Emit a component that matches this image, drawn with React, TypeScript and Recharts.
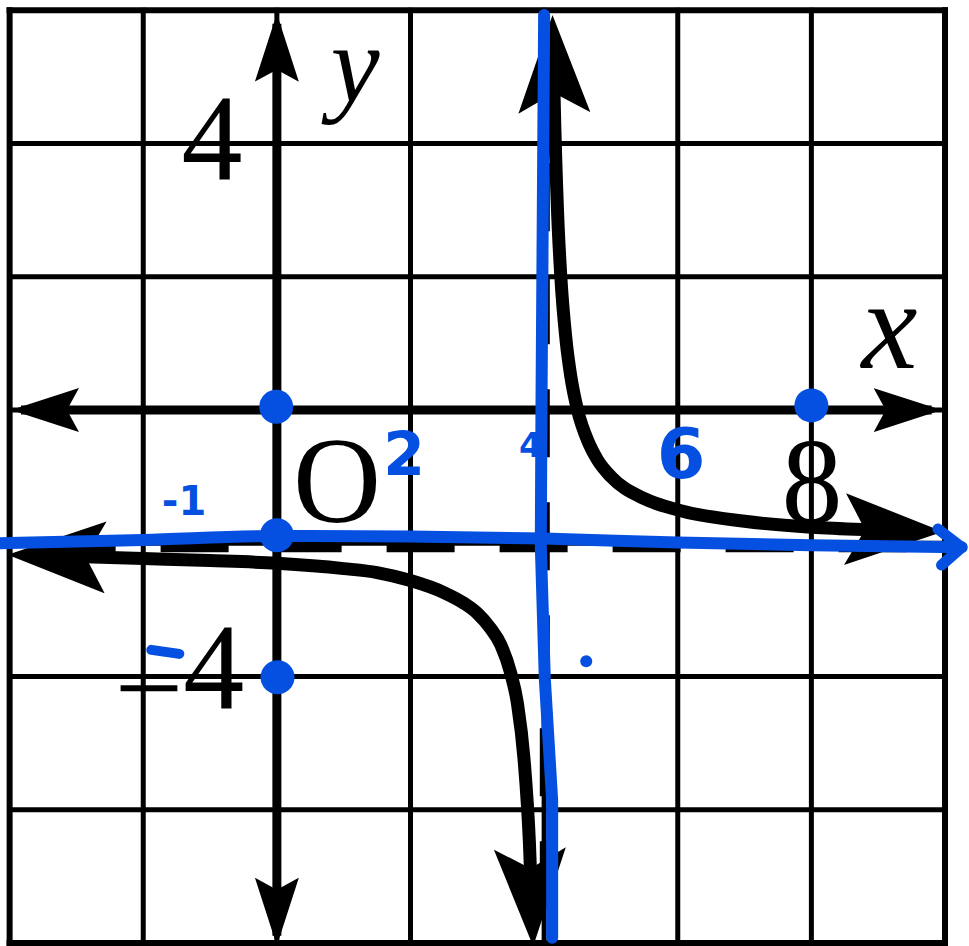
import React from "react"
import { ComposedChart, Line, Scatter, XAxis, YAxis } from "recharts"

const W = 969
const H = 946
const INK = "#000000"
const PEN = "#0550e1"

// frame runs -4..10 across and -8..6 up, one grid line every 2 units
const gridX = [-4, -2, 0, 2, 4, 6, 8, 10]
const gridY = [-8, -6, -4, -2, 0, 2, 4, 6]

// dashed asymptotes
const asymX = 4.01
const asymY = -2.06

// axis ends (the arrow tips sit a little past these)
const xAxisEnds = [-3.83, 9.8]
const yAxisEnds = [5.8, -7.89]

// left / lower branch
const leftX = [-3.73, -3, -2, -1, 0, 1, 1.5, 2, 2.5, 2.8, 3, 3.2, 3.35, 3.5, 3.6, 3.7, 3.78, 3.826]
const leftY = [-2.18, -2.2, -2.23, -2.26, -2.3, -2.38, -2.44, -2.56, -2.74, -2.9, -3.05, -3.28, -3.52, -3.95, -4.4, -5.25, -6.5, -7.75]

// upper / right branch
const rightX = [4.131, 4.15, 4.2, 4.25, 4.33, 4.4, 4.5, 4.67, 4.8, 5, 5.5, 6, 7, 8, 9, 9.67]
const rightY = [5.63, 4.67, 3.0, 2.0, 1.03, 0.5, 0, -0.5, -0.75, -1.0, -1.33, -1.5, -1.67, -1.76, -1.8, -1.82]

// blue pen strokes drawn over the printed graph
const penVX = [4.0, 3.96, 3.95, 4.01, 4.12, 4.12]
const penVY = [5.93, 0, -2.03, -4.03, -5.86, -7.92]
const penHX = [-4.14, -2, 0, 2, 4, 6, 8, 10.25]
const penHY = [-2.0, -1.95, -1.89, -1.9, -1.93, -1.99, -2.03, -2.06]
const penDashX = [-1.88, -1.46]
const penDashY = [-3.6, -3.66]

const penDotX = [-0.01, 0, 0.01, 8.0]
const penDotY = [0.05, -1.88, -4.01, 0.07]
const penSpeckX = [4.63]
const penSpeckY = [-3.77]

// printed labels (anchor = baseline centre)
const printedText = ["4", "\u22124", "O", "8"]
const printedX = [-0.97, -1.46, 0.9, 8.01]
const printedY = [3.45, -4.48, -1.68, -1.7]

const axisNameText = ["x", "y"]
const axisNameX = [9.17, 1.17]
const axisNameY = [0.63, 4.62]

// handwritten marks
const penText = ["-1", "2", "4", "6"]
const penTextX = [-1.39, 1.905, 3.8, 6.05]
const penTextY = [-1.58, -0.98, -0.71, -1.02]
const penFontSize = [40, 60, 34, 70]
const axisNameSize = [126, 110]

const pts = (xs: number[], ys: number[]) => xs.map((x, i) => ({ x, y: ys[i] }))
const labels = (t: string[], xs: number[], ys: number[]) =>
  t.map((text, i) => ({ x: xs[i], y: ys[i], text, i }))

const plain = { dot: false, activeDot: false, isAnimationActive: false, legendType: "none" as const }
const serif = "'Liberation Serif', 'Times New Roman', serif"

function PrintedLabel(p: any) {
  const t: string = p.payload.text
  if (t.startsWith("\u2212")) {
    // the minus sits on the grid line, a bit lower than the font puts it
    return (
      <text x={p.cx} y={p.cy} textAnchor="middle" fontFamily={serif} fontSize={122} fill={INK}>
        <tspan dy={20}>{"\u2212"}</tspan>
        <tspan dy={-20}>{t.slice(1)}</tspan>
      </text>
    )
  }
  return (
    <text x={p.cx} y={p.cy} textAnchor="middle" fontFamily={serif} fontSize={122} fill={INK}>{t}</text>
  )
}

export default function App() {
  return (
    <div style={{ position: "absolute", left: 0, top: 0, width: W, height: H, background: "#fff" }}>
      <ComposedChart width={W} height={H} margin={{ top: 0, right: 0, bottom: 0, left: 0 }}>
        <defs>
          <marker id="tipAxis" viewBox="0 0 68 44" markerWidth={68} markerHeight={44} refX={58} refY={22}
            orient="auto-start-reverse" markerUnits="userSpaceOnUse">
            <path d="M68,22 L0,0 L12,22 L0,44 Z" fill={INK} />
          </marker>
          <marker id="tipCurve" viewBox="0 0 98 72" markerWidth={98} markerHeight={72} refX={78} refY={36}
            orient="auto-start-reverse" markerUnits="userSpaceOnUse">
            <path d="M98,36 L0,0 L20,36 L0,72 Z" fill={INK} />
          </marker>
          <marker id="tipPen" viewBox="0 0 40 50" markerWidth={40} markerHeight={50} refX={32} refY={25}
            orient="auto" markerUnits="userSpaceOnUse">
            <path d="M8,7 L32,25 L12,43" fill="none" stroke={PEN} strokeWidth={11}
              strokeLinecap="round" strokeLinejoin="round" />
          </marker>
        </defs>
        <XAxis type="number" dataKey="x" domain={[-4.144, 10.359]} allowDataOverflow hide />
        <YAxis type="number" dataKey="y" domain={[-8.045, 6.155]} allowDataOverflow hide />

        {/* grid */}
        {gridX.map((v) => (
          <Line key={"gx" + v} {...plain} data={pts([v, v], [-8, 6])} dataKey="y" type="linear"
            stroke={INK} strokeWidth={v === -4 || v === 10 ? 6 : 5} strokeLinecap="square" />
        ))}
        {gridY.map((v) => (
          <Line key={"gy" + v} {...plain} data={pts([-4, 10], [v, v])} dataKey="y" type="linear"
            stroke={INK} strokeWidth={v === -8 || v === 6 ? 6 : 5} strokeLinecap="square" />
        ))}

        {/* asymptotes */}
        <Line {...plain} data={pts([asymX, asymX], [6, -8])} dataKey="y" type="linear"
          stroke={INK} strokeWidth={10} strokeDasharray="68 45" strokeDashoffset={73} />
        <Line {...plain} data={pts([-4, 10], [asymY, asymY])} dataKey="y" type="linear"
          stroke={INK} strokeWidth={10} strokeDasharray="68 45" strokeDashoffset={75} />

        {/* axes */}
        <Line {...plain} data={pts(xAxisEnds, [0, 0])} dataKey="y" type="linear" stroke={INK} strokeWidth={9}
          markerStart="url(#tipAxis)" markerEnd="url(#tipAxis)" />
        <Line {...plain} data={pts([0, 0], yAxisEnds)} dataKey="y" type="linear" stroke={INK} strokeWidth={9}
          markerStart="url(#tipAxis)" markerEnd="url(#tipAxis)" />

        {/* the two branches */}
        <Line {...plain} data={pts(leftX, leftY)} dataKey="y" type="monotone" stroke={INK} strokeWidth={13}
          markerStart="url(#tipCurve)" markerEnd="url(#tipCurve)" />
        <Line {...plain} data={pts(rightX, rightY)} dataKey="y" type="monotone" stroke={INK} strokeWidth={13}
          markerStart="url(#tipCurve)" markerEnd="url(#tipCurve)" />

        {/* printed labels */}
        <Scatter data={labels(printedText, printedX, printedY)} isAnimationActive={false} legendType="none"
          shape={(p: any) => <PrintedLabel {...p} />} />
        <Scatter data={labels(axisNameText, axisNameX, axisNameY)} isAnimationActive={false} legendType="none"
          shape={(p: any) => (
            <text x={p.cx} y={p.cy} textAnchor="middle" fontFamily={serif}
              fontStyle="italic" fontSize={axisNameSize[p.payload.i]} fill={INK}>{p.payload.text}</text>
          )} />

        {/* blue pen */}
        <Line {...plain} data={pts(penVX, penVY)} dataKey="y" type="linear" stroke={PEN} strokeWidth={12}
          strokeLinecap="round" strokeLinejoin="round" />
        <Line {...plain} data={pts(penHX, penHY)} dataKey="y" type="monotone" stroke={PEN} strokeWidth={12}
          strokeLinecap="round" markerEnd="url(#tipPen)" />
        <Line {...plain} data={pts(penDashX, penDashY)} dataKey="y" type="linear" stroke={PEN} strokeWidth={10}
          strokeLinecap="round" />
        <Scatter data={pts(penDotX, penDotY)} isAnimationActive={false} legendType="none"
          shape={(p: any) => <circle cx={p.cx} cy={p.cy} r={17} fill={PEN} />} />
        <Scatter data={pts(penSpeckX, penSpeckY)} isAnimationActive={false} legendType="none"
          shape={(p: any) => <circle cx={p.cx} cy={p.cy} r={6} fill={PEN} />} />
        <Scatter data={labels(penText, penTextX, penTextY)} isAnimationActive={false} legendType="none"
          shape={(p: any) => (
            <text x={p.cx} y={p.cy} textAnchor="middle" fontFamily="'DejaVu Sans', sans-serif" fontWeight="bold"
              fontSize={penFontSize[p.payload.i]} fill={PEN}>{p.payload.text}</text>
          )} />
      </ComposedChart>
    </div>
  )
}
